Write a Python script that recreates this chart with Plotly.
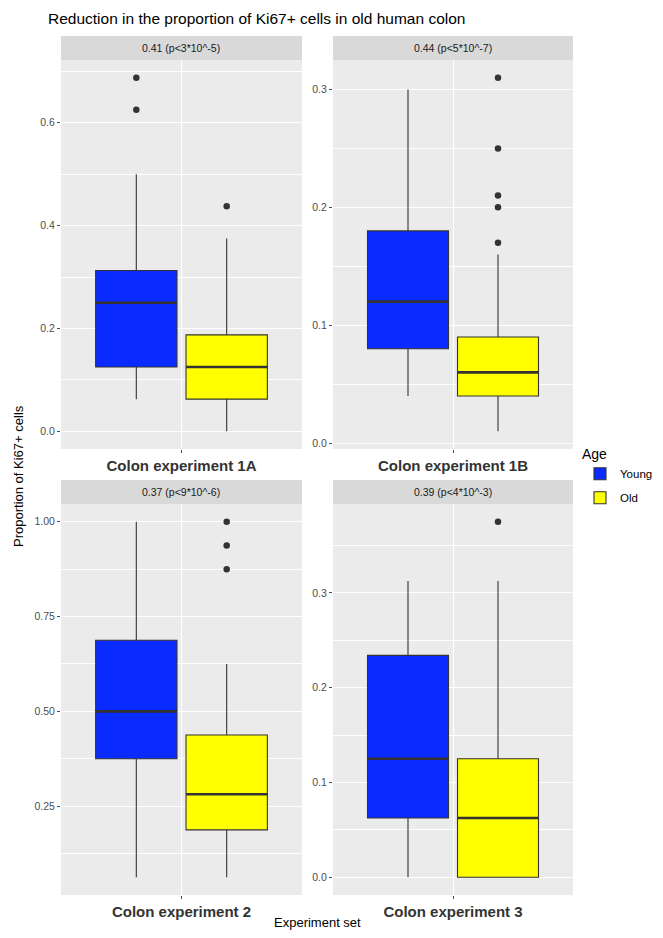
import plotly.graph_objects as go

# ---------------- data ----------------
categories = ["Colon experiment 1A", "Colon experiment 1B", "Colon experiment 2", "Colon experiment 3"]
strip_labels = ["0.41 (p<3*10^-5)", "0.44 (p<5*10^-7)", "0.37 (p<9*10^-6)", "0.39 (p<4*10^-3)"]
groups = ["Young", "Old"]

young_lower = [0.0625, 0.04, 0.0625, 0.0]
young_q1 = [0.125, 0.08, 0.375, 0.0625]
young_median = [0.25, 0.12, 0.5, 0.125]
young_q3 = [0.3125, 0.18, 0.6875, 0.234]
young_upper = [0.5, 0.30, 1.0, 0.3125]
young_outliers = [[0.6875, 0.625], [], [], []]

old_lower = [0.0, 0.01, 0.0625, 0.0]
old_q1 = [0.0625, 0.04, 0.1875, 0.0]
old_median = [0.125, 0.06, 0.28125, 0.0625]
old_q3 = [0.1875, 0.09, 0.4375, 0.125]
old_upper = [0.375, 0.16, 0.625, 0.3125]
old_outliers = [[0.4375], [0.31, 0.25, 0.21, 0.20, 0.17], [1.0, 0.9375, 0.875], [0.375]]

tick_vals = [[0.0, 0.2, 0.4, 0.6], [0.0, 0.1, 0.2, 0.3], [0.25, 0.5, 0.75, 1.0], [0.0, 0.1, 0.2, 0.3]]
tick_text = [["0.0", "0.2", "0.4", "0.6"], ["0.0", "0.1", "0.2", "0.3"],
             ["0.25", "0.50", "0.75", "1.00"], ["0.0", "0.1", "0.2", "0.3"]]
minor_step = [0.1, 0.05, 0.125, 0.05]

# ---------------- style ----------------
OFF = 8  # page body margin
W, H = 663 - 2 * OFF, 938 - 2 * OFF
colors = {"Young": "#0a2bff", "Old": "#ffff00"}
line_col = "#333333"
panel_bg = "#ebebeb"
strip_bg = "#d9d9d9"
tick_col = "#4d4d4d"
FONT = "Liberation Sans, Arial, sans-serif"

# pixel boxes of panels in window px: (x0, x1, y0, y1)
panels_px = [(61, 302, 60, 449), (333, 573, 60, 449), (61, 302, 504, 895), (333, 573, 504, 895)]
strip_h = 24

def px_x(x):
    return (x - OFF) / W

def px_y(y):
    return 1 - (y - OFF) / H

fig = go.Figure()
layout = {}
annotations = []
shapes = []

dodge = 0.225
box_w = 0.405

for i in range(4):
    xa = "x" if i == 0 else f"x{i+1}"
    ya = "y" if i == 0 else f"y{i+1}"
    stats = {
        "Young": (young_lower[i], young_q1[i], young_median[i], young_q3[i], young_upper[i], young_outliers[i]),
        "Old": (old_lower[i], old_q1[i], old_median[i], old_q3[i], old_upper[i], old_outliers[i]),
    }
    for g, off in zip(groups, [-dodge, dodge]):
        lo, q1, med, q3, hi, outs = stats[g]
        xc = 1 + off
        fig.add_trace(go.Box(
            x=[xc], q1=[q1], median=[med], q3=[q3], lowerfence=[lo], upperfence=[hi],
            width=box_w, whiskerwidth=0, fillcolor=colors[g],
            line=dict(color=line_col, width=1.1), boxpoints=False,
            name=g, legendgroup=g, showlegend=(i == 0),
            xaxis=xa, yaxis=ya, hoverinfo="skip"))
        # thick median line
        fig.add_trace(go.Scatter(
            x=[xc - box_w / 2, xc + box_w / 2], y=[med, med], mode="lines",
            line=dict(color=line_col, width=2.6), showlegend=False,
            xaxis=xa, yaxis=ya, hoverinfo="skip"))
        if outs:
            fig.add_trace(go.Scatter(
                x=[xc] * len(outs), y=outs, mode="markers",
                marker=dict(color=line_col, size=6.5), showlegend=False,
                xaxis=xa, yaxis=ya, hoverinfo="skip"))

    all_vals = [young_lower[i], young_upper[i], old_lower[i], old_upper[i]] + young_outliers[i] + old_outliers[i]
    vmin, vmax = min(all_vals), max(all_vals)
    pad = 0.05 * (vmax - vmin)
    x0, x1, y0, y1 = panels_px[i]

    layout["xaxis" if i == 0 else f"xaxis{i+1}"] = dict(
        domain=[px_x(x0), px_x(x1)], anchor=ya, range=[0.4, 1.6],
        tickvals=[1], ticktext=[f"<b>{categories[i]}</b>"],
        tickfont=dict(size=15, color="#333333", family=FONT),
        ticks="outside", ticklen=3, tickcolor=tick_col, tickwidth=1,
        showgrid=True, gridcolor="white", gridwidth=1.1, zeroline=False,
        showline=False, fixedrange=True, automargin=False)
    layout["yaxis" if i == 0 else f"yaxis{i+1}"] = dict(
        domain=[px_y(y1), px_y(y0)], anchor=xa, range=[vmin - pad, vmax + pad],
        tickvals=tick_vals[i], ticktext=tick_text[i],
        tickfont=dict(size=10.5, color=tick_col, family=FONT),
        ticks="outside", ticklen=3, tickcolor=tick_col, tickwidth=1,
        showgrid=True, gridcolor="white", gridwidth=1.1, zeroline=False,
        showline=False, fixedrange=True, automargin=False,
        minor=dict(dtick=minor_step[i], tick0=tick_vals[i][0] - minor_step[i],
                   showgrid=True, gridcolor="white", gridwidth=0.5, ticks=""))

    # panel background
    shapes.append(dict(type="rect", xref="paper", yref="paper",
                       x0=px_x(x0), x1=px_x(x1), y0=px_y(y1), y1=px_y(y0),
                       fillcolor=panel_bg, line=dict(width=0), layer="below"))
    # strip
    shapes.append(dict(type="rect", xref="paper", yref="paper",
                       x0=px_x(x0), x1=px_x(x1), y0=px_y(y0), y1=px_y(y0 - strip_h),
                       fillcolor=strip_bg, line=dict(width=0), layer="below"))
    annotations.append(dict(text=strip_labels[i], xref="paper", yref="paper",
                            x=px_x((x0 + x1) / 2), y=px_y(y0 - strip_h / 2),
                            showarrow=False, xanchor="center", yanchor="middle",
                            font=dict(size=10.5, color="#1a1a1a", family=FONT)))

# title and axis titles
annotations.append(dict(text="Reduction in the proportion of Ki67+ cells in old human colon",
                        xref="paper", yref="paper", x=px_x(46), y=px_y(18),
                        showarrow=False, xanchor="left", yanchor="middle",
                        font=dict(size=15.5, color="black", family=FONT)))
annotations.append(dict(text="Experiment set", xref="paper", yref="paper",
                        x=px_x(317), y=px_y(922), showarrow=False,
                        xanchor="center", yanchor="middle",
                        font=dict(size=13, color="black", family=FONT)))
annotations.append(dict(text="Proportion of Ki67+ cells", xref="paper", yref="paper",
                        x=px_x(18), y=px_y(476), showarrow=False, textangle=-90,
                        xanchor="center", yanchor="middle",
                        font=dict(size=13, color="black", family=FONT)))

fig.update_layout(
    width=W, height=H, autosize=False,
    margin=dict(l=0, r=0, t=0, b=0, autoexpand=False),
    paper_bgcolor="white", plot_bgcolor="rgba(0,0,0,0)",
    font=dict(family=FONT),
    annotations=annotations, shapes=shapes,
    legend=dict(title=dict(text="Age", font=dict(size=14, color="black", family=FONT)),
                xref="container", yref="container",
                x=px_x(580), y=px_y(441), xanchor="left", yanchor="top",
                font=dict(size=11.5, color="black", family=FONT),
                bgcolor="rgba(0,0,0,0)", itemwidth=30, tracegroupgap=5),
    showlegend=True,
    **layout)

fig.write_html("out.html", config={"responsive": False})
